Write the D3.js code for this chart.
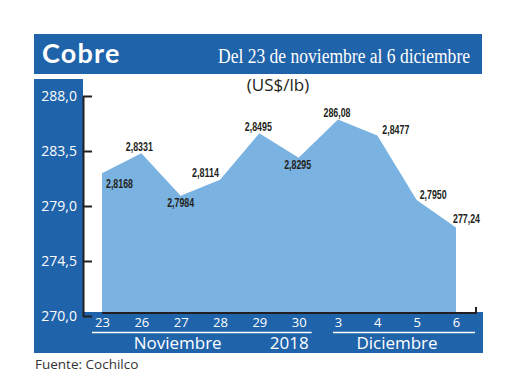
<!DOCTYPE html>
<html lang="es">
<head>
<meta charset="utf-8"/>
<title>Cobre</title>
<script src="https://d3js.org/d3.v7.min.js"></script>
<style>
  body { margin: 0; background: #fff; }
  .axis .domain { stroke: #231f20; stroke-width: 2px; }
  .axis line { stroke: #231f20; stroke-width: 2px; }
  .yaxis text { fill: #fff; font-family: "Open Sans", sans-serif; font-size: 14px; }
  .xaxis text { fill: #fff; font-family: "Open Sans", sans-serif; font-size: 13px; }
  .val { font-family: "Liberation Sans", sans-serif; font-weight: bold; font-size: 12.5px; fill: #231f20; }
</style>
</head>
<body>
<div id="chart"></div>
<script>
// data
var days = ["23", "26", "27", "28", "29", "30", "3", "4", "5", "6"];
var values = [281.68, 283.31, 279.84, 281.14, 284.95, 282.95, 286.08, 284.77, 279.50, 277.24];
var valueLabels = ["2,8168", "2,8331", "2,7984", "2,8114", "2,8495", "2,8295", "286,08", "2,8477", "2,7950", "277,24"];
var yTicks = [270, 274.5, 279, 283.5, 288];
var months = [
  { name: "Noviembre", from: "23", to: "30", mid: "27" },
  { name: "Diciembre", from: "3", to: "6", mid: "4" }
];
var yearLabel = "2018";

// where each value label sits relative to its point
var labelPos = [
  { anchor: "start", dx: 4, dy: 10 },
  { anchor: "middle", dx: -2, dy: -7 },
  { anchor: "middle", dx: 0, dy: 7 },
  { anchor: "end", dx: -1, dy: -7 },
  { anchor: "middle", dx: -1, dy: -7 },
  { anchor: "middle", dx: -1, dy: 7 },
  { anchor: "middle", dx: -1, dy: -7 },
  { anchor: "start", dx: 5, dy: -6 },
  { anchor: "start", dx: 3, dy: -5 },
  { anchor: "start", dx: -3, dy: -9 }
];

var width = 520, height = 390;
var blue = "#1f63aa", fill = "#7ab3e1";

var svg = d3.select("#chart").append("svg")
  .attr("width", width)
  .attr("height", height);

var comma = d3.formatLocale({ decimal: ",", thousands: ".", grouping: [3], currency: ["", ""] });

var x = d3.scalePoint()
  .domain(days)
  .range([102, 456]);

var y = d3.scaleLinear()
  .domain([270, 288])
  .range([316, 96]);

// header
svg.append("rect").attr("x", 34).attr("y", 34).attr("width", 448).attr("height", 40).attr("fill", blue);
svg.append("text")
  .attr("x", 42).attr("y", 63)
  .attr("fill", "#fff")
  .attr("font-family", "Lato, sans-serif")
  .attr("font-weight", "bold")
  .attr("font-size", 27)
  .attr("letter-spacing", 1.2)
  .text("Cobre");
svg.append("text")
  .attr("x", 218).attr("y", 63)
  .attr("fill", "#fff")
  .attr("font-family", "Liberation Serif, serif")
  .attr("font-size", 20)
  .attr("textLength", 252)
  .attr("lengthAdjust", "spacingAndGlyphs")
  .text("Del 23 de noviembre al 6 diciembre");

svg.append("text")
  .attr("x", 278).attr("y", 91)
  .attr("text-anchor", "middle")
  .attr("font-family", "Open Sans, sans-serif")
  .attr("font-size", 17)
  .attr("fill", "#231f20")
  .text("(US$/lb)");

// left column
svg.append("rect").attr("x", 34).attr("y", 79).attr("width", 49).attr("height", 274).attr("fill", blue);

// area
var area = d3.area()
  .x(function(d, i) { return x(days[i]); })
  .y0(y(270))
  .y1(function(d) { return y(d); });

svg.append("path")
  .datum(values)
  .attr("d", area)
  .attr("fill", fill);

// bottom band
svg.append("rect").attr("x", 34).attr("y", 312).attr("width", 449).attr("height", 41).attr("fill", blue);

// baseline along the top of the band
svg.append("path")
  .attr("d", "M" + x(days[0]) + "," + 313 + "H" + (x(days[days.length - 1]) + 20) + "V307")
  .attr("fill", "none")
  .attr("stroke", "#231f20")
  .attr("stroke-width", 2);

// y axis
svg.append("g")
  .attr("class", "axis yaxis")
  .attr("transform", "translate(83,0)")
  .call(d3.axisLeft(y)
    .tickValues(yTicks)
    .tickSize(-9)
    .tickSizeOuter(0)
    .tickPadding(6)
    .tickFormat(comma.format(".1f")));

// x axis
var xg = svg.append("g")
  .attr("class", "axis xaxis")
  .attr("transform", "translate(0,313)")
  .call(d3.axisBottom(x).tickSize(0).tickPadding(5));
xg.select(".domain").remove();

// month underlines and names
var mg = svg.append("g");
mg.selectAll("line")
  .data(months)
  .enter().append("line")
    .attr("x1", function(d, i) { return x(d.from) - (i ? 5 : 10); })
    .attr("x2", function(d, i) { return x(d.to) + (i ? 19 : 13); })
    .attr("y1", 332.5).attr("y2", 332.5)
    .attr("stroke", "#fff")
    .attr("stroke-width", 1.5);
mg.selectAll("text")
  .data(months)
  .enter().append("text")
    .attr("x", function(d, i) { return i ? (x(d.mid) + x("5")) / 2 : x(d.mid) - 3; })
    .attr("y", 349)
    .attr("text-anchor", "middle")
    .attr("fill", "#fff")
    .attr("font-family", "Open Sans, sans-serif")
    .attr("font-size", 17)
    .text(function(d) { return d.name; });
mg.append("text")
  .attr("x", x(months[0].to) + 10)
  .attr("y", 349)
  .attr("text-anchor", "end")
  .attr("fill", "#fff")
  .attr("font-family", "Open Sans, sans-serif")
  .attr("font-size", 17)
  .text(yearLabel);

// value labels, squeezed to the condensed look of the original
svg.append("g")
  .selectAll("text")
  .data(values)
  .enter().append("text")
    .attr("class", "val")
    .attr("x", function(d, i) { return x(days[i]) + labelPos[i].dx; })
    .attr("y", function(d, i) { return y(d) + labelPos[i].dy; })
    .attr("dy", "0.35em")
    .attr("text-anchor", function(d, i) { return labelPos[i].anchor; })
    .attr("textLength", 27)
    .attr("lengthAdjust", "spacingAndGlyphs")
    .text(function(d, i) { return valueLabels[i]; });

// source
svg.append("text")
  .attr("x", 35).attr("y", 369)
  .attr("font-family", "Open Sans, sans-serif")
  .attr("font-size", 13.5)
  .attr("fill", "#333")
  .text("Fuente: Cochilco");
</script>
</body>
</html>
